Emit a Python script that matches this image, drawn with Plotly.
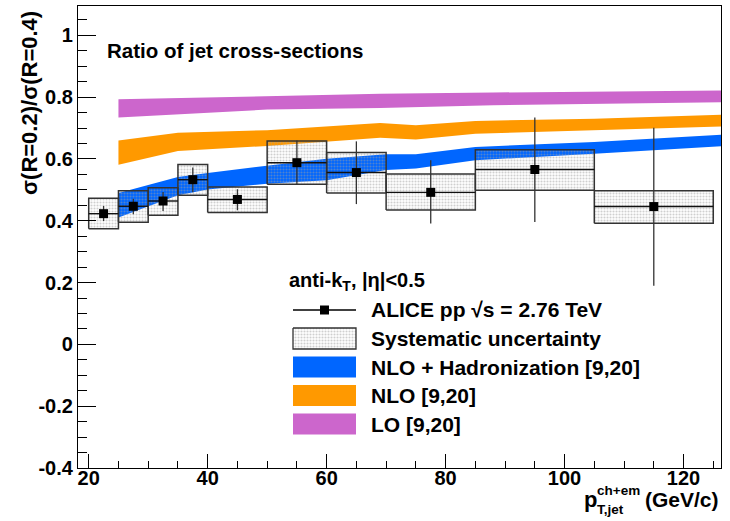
import plotly.graph_objects as go

# ---------------- data ----------------
bin_lo = [20, 25, 30, 35, 40, 50, 60, 70, 85, 105]
bin_hi = [25, 30, 35, 40, 50, 60, 70, 85, 105, 125]
ratio = [0.423, 0.447, 0.464, 0.533, 0.469, 0.588, 0.556, 0.492, 0.566, 0.446]
stat_hi = [0.448, 0.471, 0.493, 0.572, 0.502, 0.660, 0.657, 0.596, 0.734, 0.701]
stat_lo = [0.399, 0.421, 0.432, 0.492, 0.434, 0.516, 0.454, 0.391, 0.396, 0.190]
sys_hi = [0.473, 0.497, 0.507, 0.582, 0.509, 0.658, 0.621, 0.551, 0.630, 0.497]
sys_lo = [0.374, 0.395, 0.418, 0.483, 0.427, 0.518, 0.490, 0.435, 0.499, 0.392]

nlohad_x = [25, 35, 40, 50, 60, 70, 75, 85, 105, 126.5]
nlohad_hi = [0.490, 0.542, 0.555, 0.578, 0.601, 0.615, 0.615, 0.639, 0.655, 0.679]
nlohad_lo = [0.411, 0.483, 0.501, 0.520, 0.531, 0.564, 0.569, 0.596, 0.617, 0.641]

nlo_x = [25, 35, 50, 69, 75, 85, 105, 126.5]
nlo_hi = [0.660, 0.685, 0.693, 0.716, 0.709, 0.723, 0.730, 0.743]
nlo_lo = [0.581, 0.626, 0.642, 0.669, 0.663, 0.682, 0.693, 0.705]

lo_x = [25, 50, 69, 88, 126.5]
lo_hi = [0.793, 0.804, 0.811, 0.815, 0.822]
lo_lo = [0.734, 0.760, 0.765, 0.774, 0.784]

y_tickvals = [-0.4, -0.2, 0, 0.2, 0.4, 0.6, 0.8, 1]
y_ticktext = ["-0.4", "-0.2", "0", "0.2", "0.4", "0.6", "0.8", "1"]
x_tickvals = [20, 40, 60, 80, 100, 120]
x_ticktext = ["20", "40", "60", "80", "100", "120"]

legend_labels = ["ALICE pp √s = 2.76 TeV", "Systematic uncertainty",
                 "NLO + Hadronization [9,20]", "NLO [9,20]", "LO [9,20]"]

# ---------------- styles ----------------
FONT = "Liberation Sans, Arial, Helvetica, sans-serif"
C_BLUE = "#0066FF"
C_ORANGE = "#FF9900"
C_MAG = "#CC66CC"
PAT = dict(shape=".", fgcolor="#a0a0a0", bgcolor="rgba(0,0,0,0)", size=3,
           solidity=0.4, fillmode="overlay")
BOXFILL = "rgba(225,225,225,0.3)"

# plot-area pixel geometry
L, R, T, B = 78, 721, 6, 468
W, H = 730, 521


def px(x):
    return (x - L) / (R - L)


def py(y):
    return (B - y) / (B - T)


def b(s):
    return "<b>" + s + "</b>"


fig = go.Figure()


def band(xs, hi, lo, color):
    fig.add_trace(go.Scatter(
        x=list(xs) + list(xs)[::-1], y=list(hi) + list(lo)[::-1],
        fill="toself", fillcolor=color, mode="lines", line=dict(width=0),
        hoverinfo="skip", showlegend=False))


band(lo_x, lo_hi, lo_lo, C_MAG)
band(nlo_x, nlo_hi, nlo_lo, C_ORANGE)
band(nlohad_x, nlohad_hi, nlohad_lo, C_BLUE)

# systematic boxes
bx, by = [], []
for a, bb, lo, hi in zip(bin_lo, bin_hi, sys_lo, sys_hi):
    bx += [a, bb, bb, a, a, None]
    by += [lo, lo, hi, hi, lo, None]
fig.add_trace(go.Scatter(
    x=bx, y=by, fill="toself", fillcolor=BOXFILL,
    fillpattern=PAT, mode="lines", line=dict(color="#333333", width=1.5),
    hoverinfo="skip", showlegend=False))

# data points
centers = [(a + bb) / 2 for a, bb in zip(bin_lo, bin_hi)]
halfw = [(bb - a) / 2 for a, bb in zip(bin_lo, bin_hi)]
fig.add_trace(go.Scatter(
    x=centers, y=ratio, mode="markers",
    marker=dict(symbol="square", size=9, color="black"),
    error_x=dict(type="data", array=halfw, width=0, thickness=1.4, color="#111111"),
    error_y=dict(type="data", symmetric=False,
                 array=[h - v for h, v in zip(stat_hi, ratio)],
                 arrayminus=[v - l for v, l in zip(ratio, stat_lo)],
                 width=0, thickness=1.3, color="#333333"),
    showlegend=False))

# ---------------- legend (drawn in pixel space on hidden overlay axes) ----------------
leg_x0, leg_x1 = 293, 356
row_y = [310, 338.5, 367, 395.5, 424]
box_h = 10.5
fig.add_trace(go.Scatter(x=[leg_x0, leg_x1], y=[row_y[0], row_y[0]], mode="lines",
                         line=dict(color="black", width=1.3), xaxis="x2", yaxis="y2",
                         showlegend=False, hoverinfo="skip"))
fig.add_trace(go.Scatter(x=[(leg_x0 + leg_x1) / 2], y=[row_y[0]], mode="markers",
                         marker=dict(symbol="square", size=9, color="black"),
                         xaxis="x2", yaxis="y2", showlegend=False, hoverinfo="skip"))
fig.add_trace(go.Scatter(
    x=[leg_x0, leg_x1, leg_x1, leg_x0, leg_x0],
    y=[row_y[1] - box_h, row_y[1] - box_h, row_y[1] + box_h, row_y[1] + box_h, row_y[1] - box_h],
    fill="toself", fillcolor=BOXFILL, fillpattern=PAT, mode="lines",
    line=dict(color="#333333", width=1.3), xaxis="x2", yaxis="y2",
    showlegend=False, hoverinfo="skip"))
for yy, col in zip(row_y[2:], [C_BLUE, C_ORANGE, C_MAG]):
    fig.add_trace(go.Scatter(
        x=[leg_x0, leg_x1, leg_x1, leg_x0, leg_x0],
        y=[yy - box_h, yy - box_h, yy + box_h, yy + box_h, yy - box_h],
        fill="toself", fillcolor=col, mode="lines", line=dict(width=0),
        xaxis="x2", yaxis="y2", showlegend=False, hoverinfo="skip"))

ann = []
fnt = dict(family=FONT, color="black")
for yy, lab in zip(row_y, legend_labels):
    ann.append(dict(x=px(369), y=py(yy), xref="paper", yref="paper", text=b(lab),
                    xanchor="left", yanchor="middle", showarrow=False,
                    font=dict(size=21, **fnt)))
ann.append(dict(x=px(287), y=py(281), xref="paper", yref="paper",
                text=b("anti-k<sub>T</sub>, |η|&lt;0.5"), xanchor="left", yanchor="middle",
                showarrow=False, font=dict(size=20, **fnt)))
ann.append(dict(x=px(105), y=py(50), xref="paper", yref="paper",
                text=b("Ratio of jet cross-sections"), xanchor="left", yanchor="middle",
                showarrow=False, font=dict(size=20.5, **fnt)))
# y-axis title
ann.append(dict(x=px(29), y=py(103), xref="paper", yref="paper",
                text=b("σ(R=0.2)/σ(R=0.4)"), textangle=-90, xanchor="center", yanchor="middle",
                showarrow=False, font=dict(size=22, **fnt)))
# x-axis title pieces
ann.append(dict(x=px(582), y=py(499), xref="paper", yref="paper", text=b("p"),
                xanchor="left", yanchor="middle", showarrow=False, font=dict(size=22, **fnt)))
ann.append(dict(x=px(595), y=py(491), xref="paper", yref="paper", text=b("ch+em"),
                xanchor="left", yanchor="middle", showarrow=False, font=dict(size=13.5, **fnt)))
ann.append(dict(x=px(595), y=py(509), xref="paper", yref="paper", text=b("T,jet"),
                xanchor="left", yanchor="middle", showarrow=False, font=dict(size=13.5, **fnt)))
ann.append(dict(x=px(721), y=py(499), xref="paper", yref="paper", text=b("(GeV/c)"),
                xanchor="right", yanchor="middle", showarrow=False, font=dict(size=21, **fnt)))

tickfont = dict(family=FONT, size=20, color="black")
fig.update_layout(
    width=W, height=H,
    margin=dict(l=L, r=W - R, t=T, b=H - B, pad=0),
    paper_bgcolor="white", plot_bgcolor="white",
    showlegend=False,
    xaxis=dict(range=[18.2, 126.3], tickvals=x_tickvals, ticktext=[b(t) for t in x_ticktext],
               ticks="inside", ticklen=14, tickwidth=1, tickcolor="black",
               ticklabelstandoff=-8,
               minor=dict(ticks="inside", dtick=5, tick0=0, ticklen=7, tickcolor="black",
                          showgrid=False),
               showline=True, linecolor="black", linewidth=1.2, mirror=True,
               showgrid=False, zeroline=False, tickfont=tickfont),
    yaxis=dict(range=[-0.4, 1.095], tickvals=y_tickvals, ticktext=[b(t) for t in y_ticktext],
               ticks="inside", ticklen=18, tickwidth=1, tickcolor="black",
               minor=dict(ticks="inside", dtick=0.05, tick0=0, ticklen=9, tickcolor="black",
                          showgrid=False),
               showline=True, linecolor="black", linewidth=1.2, mirror=True,
               showgrid=False, zeroline=False, tickfont=tickfont),
    xaxis2=dict(overlaying="x", range=[L, R], visible=False, anchor="y2"),
    yaxis2=dict(overlaying="y", range=[B, T], visible=False, anchor="x2"),
    annotations=ann,
)

fig.write_html("out.html")
